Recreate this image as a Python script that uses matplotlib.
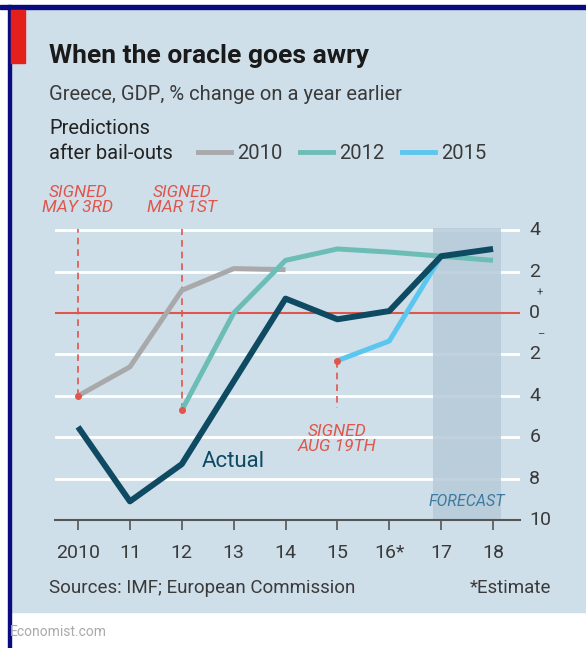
import matplotlib.pyplot as plt
from matplotlib.patches import Rectangle

# data
years = [2010, 2011, 2012, 2013, 2014, 2015, 2016, 2017, 2018]
actual = [-5.5, -9.1, -7.3, -3.3, 0.7, -0.3, 0.1, 2.75, 3.1]
pred_2010_x = [2010, 2011, 2012, 2013, 2014]
pred_2010 = [-4.0, -2.6, 1.1, 2.15, 2.1]
pred_2012_x = [2012, 2013, 2014, 2015, 2016, 2017, 2018]
pred_2012 = [-4.7, 0.0, 2.55, 3.1, 2.95, 2.75, 2.55]
pred_2015_x = [2015, 2016, 2017, 2018]
pred_2015 = [-2.3, -1.35, 2.75, 3.1]
xtick_labels = ["2010", "11", "12", "13", "14", "15", "16*", "17", "18"]
ytick_vals = [4, 2, 0, -2, -4, -6, -8, -10]
signed = [(2010, -4.0, "SIGNED\nMAY 3RD"), (2012, -4.7, "SIGNED\nMAR 1ST")]
forecast_span = (2016.85, 2018.15)

W, H = 586, 648
BG = "#cfdfe9"
NAVY = "#0f4a63"
GREY = "#a9a9ab"
TEAL = "#6dbdb7"
LBLUE = "#5cc7ee"
RED = "#e0554c"
TXT = "#3a3a3a"

plt.rcParams['font.family'] = ['Roboto', 'DejaVu Sans']

fig = plt.figure(figsize=(W / 100, H / 100), dpi=100)
fig.patch.set_facecolor("white")


def fx(px):
    return px / W


def fy(py):
    return 1 - py / H


# background panel, border, red tab on a full-figure axes underneath
bg = fig.add_axes([0, 0, 1, 1], zorder=-5)
bg.set_xlim(0, W)
bg.set_ylim(H, 0)
bg.axis("off")
bg.add_patch(Rectangle((10, 9), W - 10, 612 - 9, color=BG))
bg.add_patch(Rectangle((0, 5), W, 4, color="#0b0b80"))
bg.add_patch(Rectangle((8, 5), 3, H - 5, color="#0b0b80"))
bg.add_patch(Rectangle((11, 10), 14, 53, color="#e3201b"))

# titles
fig.text(fx(49), fy(56), "When the oracle goes awry", fontsize=19, fontweight="bold",
         color="#1a1a1a", va="center", ha="left")
fig.text(fx(49), fy(95), "Greece, GDP, % change on a year earlier", fontsize=14.5,
         color=TXT, va="center", ha="left")
fig.text(fx(49), fy(129), "Predictions", fontsize=14.5, color="#222222", va="center", ha="left")
fig.text(fx(49), fy(153), "after bail-outs", fontsize=14.5, color="#222222", va="center", ha="left")
for x0, col, lab in [(198, GREY, "2010"), (300, TEAL, "2012"), (402, LBLUE, "2015")]:
    bg.plot([x0, x0 + 33], [152, 152], color=col, lw=3.5)
    fig.text(fx(x0 + 39), fy(153), lab, fontsize=14.5, color=TXT, va="center", ha="left")

# axes
ax = fig.add_axes([fx(55), fy(520), fx(520 - 55), fy(220) - fy(520)])
ax.set_facecolor("none")
ax.set_xlim(2009.556, 2018.52)
ax.set_ylim(-10, 4.5)
for s in ax.spines.values():
    s.set_visible(False)
ax.set_yticks([])
ax.set_xticks(years)
ax.set_xticklabels(xtick_labels, fontsize=14, color=TXT)
ax.tick_params(axis="x", length=7, width=1.2, color="#555555", pad=10)

for v in ytick_vals[:-1]:
    if v != 0:
        ax.axhline(v, color="white", lw=2, zorder=2)
# forecast shading sits over the gridlines, from the axis up to the top gridline
ax.axvspan(forecast_span[0], forecast_span[1], ymin=0, ymax=14.1 / 14.5,
           facecolor="#b7cad9", edgecolor="none", alpha=0.85, zorder=2.5)
ax.axhline(0, color=RED, lw=1.5, zorder=3)
ax.axhline(-10, color="#555555", lw=1.5, zorder=3, clip_on=False)

for v in ytick_vals:
    ax.text(1.02, (v + 10) / 14.5, str(abs(v)), transform=ax.transAxes, fontsize=14,
            color=TXT, va="center", ha="left")
ax.text(1.035, 11 / 14.5, "+", transform=ax.transAxes, fontsize=8, color=TXT,
        va="center", ha="left")
ax.text(1.037, 9 / 14.5, "\u2013", transform=ax.transAxes, fontsize=8, color=TXT,
        va="center", ha="left")

# signing annotations
for xs, ys, lab in signed:
    ax.plot([xs, xs], [ys, 4.05], color=RED, lw=1.2, ls=(0, (4, 3)), zorder=4)
    ax.plot(xs, ys, "o", color=RED, ms=4, zorder=6)
    ax.text(xs, 5.45, lab, fontsize=12.5, style="italic", color=RED, ha="center",
            va="center", linespacing=1.0, clip_on=False)
ax.plot([2015, 2015], [pred_2015[0], -4.6], color=RED, lw=1.2, ls=(0, (4, 3)), zorder=4)
ax.plot(2015, pred_2015[0], "o", color=RED, ms=4, zorder=6)
ax.text(2015, -6.1, "SIGNED\nAUG 19TH", fontsize=12.5, style="italic", color=RED,
        ha="center", va="center", linespacing=1.0)

ax.plot(pred_2010_x, pred_2010, color=GREY, lw=3.6, zorder=5, solid_capstyle="butt")
ax.plot(pred_2012_x, pred_2012, color=TEAL, lw=3.6, zorder=5, solid_capstyle="butt")
ax.plot(pred_2015_x, pred_2015, color=LBLUE, lw=3.6, zorder=5, solid_capstyle="butt")
ax.plot(years, actual, color=NAVY, lw=4.3, zorder=7, solid_capstyle="butt")

ax.text(2012.38, -7.15, "Actual", fontsize=16, color=NAVY, ha="left", va="center")
ax.text(2018.24, -9.1, "FORECAST", fontsize=11.5, style="italic", color="#3d7aa0",
        ha="right", va="center", zorder=8)

fig.text(fx(49), fy(588), "Sources: IMF; European Commission", fontsize=13.5, color=TXT,
         va="center", ha="left")
fig.text(fx(551), fy(588), "*Estimate", fontsize=13.5, color=TXT, va="center", ha="right")
fig.text(fx(10), fy(632), "Economist.com", fontsize=10, color="#aaaaaa", va="center", ha="left")

fig.savefig("out.png", dpi=100)
